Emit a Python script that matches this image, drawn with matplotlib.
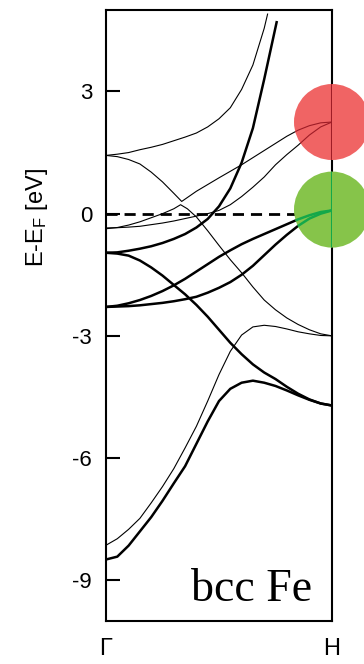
import matplotlib
matplotlib.use('Agg')
from matplotlib import pyplot as plt
from matplotlib.patches import Circle
import matplotlib.transforms as mtransforms

# k along Gamma -> H (0 = Gamma, 1 = H), energies in eV relative to E_F
k_grid = [0.00, 0.05, 0.10, 0.15, 0.20, 0.25, 0.30, 0.35, 0.40, 0.45, 0.50,
          0.55, 0.60, 0.65, 0.70, 0.75, 0.80, 0.85, 0.90, 0.95, 1.00]

# lowest s-like pair
e_s_thin = [-8.14, -7.98, -7.75, -7.48, -7.10, -6.70, -6.26, -5.75, -5.22, -4.60, -3.95,
            -3.38, -2.98, -2.78, -2.74, -2.77, -2.83, -2.90, -2.95, -2.99, -3.00]
e_s_bold = [-8.49, -8.42, -8.15, -7.80, -7.45, -7.05, -6.62, -6.20, -5.65, -5.10, -4.60,
            -4.30, -4.15, -4.10, -4.15, -4.23, -4.34, -4.46, -4.57, -4.66, -4.71]

# d bands
e_d_down = [-0.96, -0.98, -1.03, -1.15, -1.32, -1.52, -1.75, -1.98, -2.24, -2.53, -2.85,
            -3.17, -3.45, -3.70, -3.90, -4.06, -4.25, -4.42, -4.56, -4.66, -4.71]
e_d_up1 = [-2.29, -2.26, -2.20, -2.12, -2.02, -1.90, -1.76, -1.60, -1.42, -1.24, -1.06,
           -0.90, -0.75, -0.62, -0.50, -0.38, -0.26, -0.14, -0.04, 0.04, 0.08]
e_d_up2 = [-2.29, -2.28, -2.27, -2.25, -2.22, -2.19, -2.15, -2.10, -2.04, -1.94, -1.82,
           -1.68, -1.50, -1.28, -1.02, -0.76, -0.52, -0.30, -0.12, 0.00, 0.08]
e_flat = [-0.35, -0.345, -0.33, -0.31, -0.27, -0.23, -0.18, -0.12, -0.06, 0.00, 0.08,
          0.22, 0.42, 0.65, 0.90, 1.20, 1.45, 1.68, 1.93, 2.13, 2.25]

k_kink_a = [0.00, 0.05, 0.10, 0.15, 0.20, 0.25, 0.30, 0.335, 0.40, 0.50, 0.60,
            0.70, 0.80, 0.85, 0.90, 0.95, 1.00]
e_kink_a = [1.43, 1.40, 1.33, 1.22, 1.02, 0.78, 0.50, 0.30, 0.55, 0.88, 1.20,
            1.55, 1.90, 2.05, 2.16, 2.23, 2.25]

k_kink_b = [0.00, 0.05, 0.10, 0.15, 0.20, 0.25, 0.30, 0.33, 0.36, 0.40, 0.45, 0.50,
            0.55, 0.60, 0.65, 0.70, 0.75, 0.80, 0.85, 0.90, 0.95, 1.00]
e_kink_b = [-0.37, -0.34, -0.28, -0.20, -0.10, 0.00, 0.12, 0.22, 0.12, -0.08, -0.42, -0.78,
            -1.13, -1.45, -1.80, -2.12, -2.36, -2.56, -2.72, -2.85, -2.95, -3.00]

# steep bands leaving the top of the window
k_steep_thin = [0.00, 0.05, 0.10, 0.15, 0.20, 0.25, 0.30, 0.35, 0.40, 0.45, 0.50,
                0.55, 0.60, 0.65, 0.70, 0.715]
e_steep_thin = [1.43, 1.46, 1.50, 1.57, 1.63, 1.70, 1.79, 1.88, 1.98, 2.13, 2.33,
                2.60, 3.05, 3.65, 4.55, 4.90]
k_steep_bold = [0.00, 0.05, 0.10, 0.15, 0.20, 0.25, 0.30, 0.35, 0.40, 0.45, 0.50,
                0.55, 0.60, 0.65, 0.70, 0.755]
e_steep_bold = [-0.96, -0.95, -0.91, -0.86, -0.80, -0.72, -0.62, -0.50, -0.34, -0.13, 0.18,
                0.62, 1.25, 2.10, 3.30, 4.70]

e_fermi = 0.0
k_labels = ['Γ', 'H']
k_ticks = [0.0, 1.0]
e_ticks = [-9, -6, -3, 0, 3]

# states at H that are highlighted
hl_energy = [2.25, 0.10]
hl_face = ['#f06464', '#86c44a']
hl_tint = ['#9e1c26', '#14a84a']

THIN = 0.8
BOLD = 1.8

bands = [
    (k_grid, e_s_thin, THIN),
    (k_grid, e_s_bold, BOLD),
    (k_grid, e_d_down, BOLD),
    (k_grid, e_d_up1, BOLD),
    (k_grid, e_d_up2, BOLD),
    (k_grid, e_flat, THIN),
    (k_kink_a, e_kink_a, THIN),
    (k_kink_b, e_kink_b, THIN),
    (k_steep_thin, e_steep_thin, THIN),
    (k_steep_bold, e_steep_bold, BOLD),
]

plt.rcParams['font.family'] = ['Liberation Sans', 'DejaVu Sans']
plt.rcParams['axes.unicode_minus'] = False
plt.rcParams['mathtext.default'] = 'regular'

fig = plt.figure(figsize=(3.64, 6.64), dpi=100)
ax = fig.add_axes([106 / 364, 43 / 664, 226 / 364, 611 / 664])
ax.set_xlim(0, 1)
ax.set_ylim(-10, 5)

for k, e, lw in bands:
    ax.plot(k, e, color='black', lw=lw, zorder=2)

ax.axhline(e_fermi, color='black', lw=2.0, ls=(0, (4, 2.5)), zorder=2)

# filled circles at H, with the bands running under them tinted
for e_c, face, tint in zip(hl_energy, hl_face, hl_tint):
    trans = fig.dpi_scale_trans + mtransforms.ScaledTranslation(k_ticks[1], e_c, ax.transData)
    circ = Circle((0, 0), 0.38, transform=trans, facecolor=face, edgecolor='none',
                  zorder=3, clip_on=False)
    ax.add_patch(circ)
    for k, e, lw in bands:
        ln, = ax.plot(k, e, color=tint, lw=lw, zorder=4)
        ln.set_clip_path(circ)
    sp, = ax.plot([k_ticks[1]] * 2, [-10, 5], color=tint, lw=1.5, zorder=4)
    sp.set_clip_box(None)
    sp.set_clip_path(circ)

ax.set_xlim(0, 1)
ax.set_ylim(-10, 5)

for s in ax.spines.values():
    s.set_linewidth(1.5)

ax.set_yticks(e_ticks)
ax.tick_params(axis='y', direction='in', length=10, width=1.5, pad=10, labelsize=16)
ax.set_xticks(k_ticks, k_labels)
ax.tick_params(axis='x', length=0, pad=12, labelsize=17)

ax.set_ylabel('E-E$_F$ [eV]', fontsize=17)
ax.yaxis.set_label_coords(-0.25, 0.66)

ax.text(0.91, 0.033, 'bcc Fe', transform=ax.transAxes, ha='right', va='baseline',
        fontsize=33, family='Liberation Serif')

fig.savefig('out.png', dpi=100)
